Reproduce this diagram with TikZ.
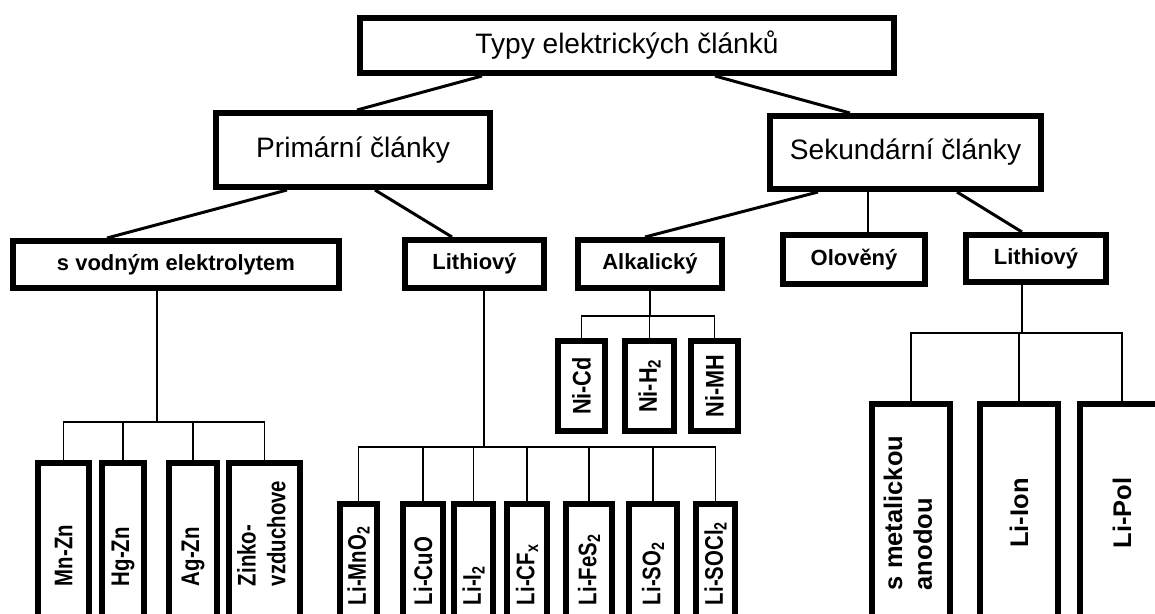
\documentclass[tikz,border=0pt]{standalone}
\usepackage{fontspec}
\setmainfont{Liberation Sans}
\usepackage{graphicx}
\newcommand{\px}{0.02cm}
\newcommand{\vup}[1]{\rotatebox{90}{\makebox[0pt][l]{\scalebox{.8}[1]{#1}}}}
\newcommand{\vmid}[1]{\rotatebox{90}{\scalebox{.85}[1]{#1}}}

\begin{document}
\begin{tikzpicture}[x=0.02cm, y=-0.02cm,
  topbox/.style={draw, line width=3.4pt, inner sep=0pt, font=\fontsize{16}{19}\selectfont},
  midbox/.style={draw, line width=3.4pt, inner sep=0pt, font=\bfseries\fontsize{12.5}{15}\selectfont},
  cell/.style={draw, line width=3.4pt, inner sep=0pt, anchor=north, font=\bfseries\fontsize{14.5}{17}\selectfont},
  link/.style={line width=1.7pt},
  bus/.style={line width=1.1pt}]
\useasboundingbox (0,0) rectangle (1155,613);
\clip (0,0) rectangle (1155,613);

\node[topbox, minimum width=534*\px, minimum height=55*\px] (root) at (627,45.5) {Typy elektrických článků};
\node[topbox, minimum width=274*\px, minimum height=74*\px] (prim) at (353,150) {Primární články};
\node[topbox, minimum width=271*\px, minimum height=73*\px] (sek) at (905.5,152.5) {Sekundární články};

\node[midbox, minimum width=326*\px, minimum height=47*\px] (voda) at (176,264.5) {s vodným elektrolytem};
\node[midbox, minimum width=139*\px, minimum height=48*\px] (lithP) at (474.5,264) {Lithiový};
\node[midbox, minimum width=144*\px, minimum height=48*\px] (alk) at (650,264) {Alkalický};
\node[midbox, minimum width=142*\px, minimum height=49*\px] (olov) at (854,259.5) {Olověný};
\node[midbox, minimum width=140*\px, minimum height=47*\px] (lithS) at (1036,258.5) {Lithiový};

\draw[link] ([shift={(-145,0)}]root.south) -- ([shift={(4,0)}]prim.north);
\draw[link] ([shift={(88,0)}]root.south) -- ([shift={(-55.5,0)}]sek.north);
\draw[link] ([shift={(-66,0)}]prim.south) -- ([shift={(-69,0)}]voda.north);
\draw[link] ([shift={(22,0)}]prim.south) -- ([shift={(-22.5,0)}]lithP.north);
\draw[link] ([shift={(-87.5,0)}]sek.south) -- ([shift={(-5,0)}]alk.north);
\draw[bus] ([shift={(-37.5,0)}]sek.south) -- ([shift={(14,0)}]olov.north);
\draw[link] ([shift={(51.5,0)}]sek.south) -- ([shift={(-14,0)}]lithS.north);

% s vodnym elektrolytem
\node[cell, minimum width=51*\px, minimum height=246*\px] (mnzn) at (63.5,460) {\vup{Mn-Zn}};
\node[cell, minimum width=42*\px, minimum height=246*\px] (hgzn) at (123,460) {\vup{Hg-Zn}};
\node[cell, minimum width=48*\px, minimum height=246*\px] (agzn) at (193,460) {\vup{Ag-Zn}};
\node[cell, minimum width=71*\px, minimum height=246*\px] (zink) at (264.5,460) {\vup{\begin{tabular}{@{}l@{}}Zinko-\\vzduchove\end{tabular}}};
\coordinate (vodabus) at (157,422);
\draw[bus] (voda.south -| vodabus) -- (vodabus);
\draw[bus] (mnzn.north) |- (vodabus) -| (zink.north);
\foreach \c in {hgzn,agzn}
  \draw[bus] (\c.north) -- (\c.north |- vodabus);

% lithiove primarni
\node[cell, minimum width=37*\px, minimum height=202*\px] (limno) at (358.5,501) {\vup{Li-MnO\textsubscript{2}}};
\node[cell, minimum width=40*\px, minimum height=202*\px] (licuo) at (423,501) {\vup{Li-CuO}};
\node[cell, minimum width=39*\px, minimum height=202*\px] (lii) at (473.5,501) {\vup{Li-I\textsubscript{2}}};
\node[cell, minimum width=40*\px, minimum height=202*\px] (licf) at (527,501) {\vup{Li-CF\textsubscript{x}}};
\node[cell, minimum width=46*\px, minimum height=202*\px] (lifes) at (589,501) {\vup{Li-FeS\textsubscript{2}}};
\node[cell, minimum width=48*\px, minimum height=202*\px] (liso) at (653,501) {\vup{Li-SO\textsubscript{2}}};
\node[cell, minimum width=39*\px, minimum height=202*\px] (lisocl) at (715.5,501) {\vup{Li-SOCl\textsubscript{2}}};
\coordinate (libus) at (484,447);
\draw[bus] (lithP.south -| libus) -- (libus);
\draw[bus] (limno.north) |- (libus) -| (lisocl.north);
\foreach \c in {licuo,lii,licf,lifes,liso}
  \draw[bus] (\c.north) -- (\c.north |- libus);

% alkalicke
\node[cell, minimum width=47*\px, minimum height=90*\px] (nicd) at (581.5,338) {\vmid{Ni-Cd}};
\node[cell, minimum width=49*\px, minimum height=90*\px] (nih) at (649.5,338) {\vmid{Ni-H\textsubscript{2}}};
\node[cell, minimum width=47*\px, minimum height=90*\px] (nimh) at (714.5,338) {\vmid{Ni-MH}};
\coordinate (alkbus) at (650,316);
\draw[bus] (alk.south) -- (alkbus);
\draw[bus] (nicd.north) |- (alkbus) -| (nimh.north);
\draw[bus] (nih.north) -- (nih.north |- alkbus);

% lithiove sekundarni
\node[cell, minimum width=78*\px, minimum height=218*\px] (smet) at (911,401) {\rotatebox{90}{\begin{tabular}{@{}l@{}}s metalickou\\anodou\end{tabular}}};
\node[cell, minimum width=78*\px, minimum height=218*\px] (liion) at (1019,401) {\rotatebox{90}{Li-Ion}};
\node[cell, minimum width=84*\px, minimum height=218*\px] (lipol) at (1122,401) {\rotatebox{90}{Li-Pol}};
\coordinate (lsbus) at (1022,333);
\draw[bus] (lithS.south -| lsbus) -- (lsbus);
\draw[bus] (smet.north) |- (lsbus) -| (lipol.north);
\draw[bus] (liion.north) -- (liion.north |- lsbus);
\end{tikzpicture}
\end{document}
